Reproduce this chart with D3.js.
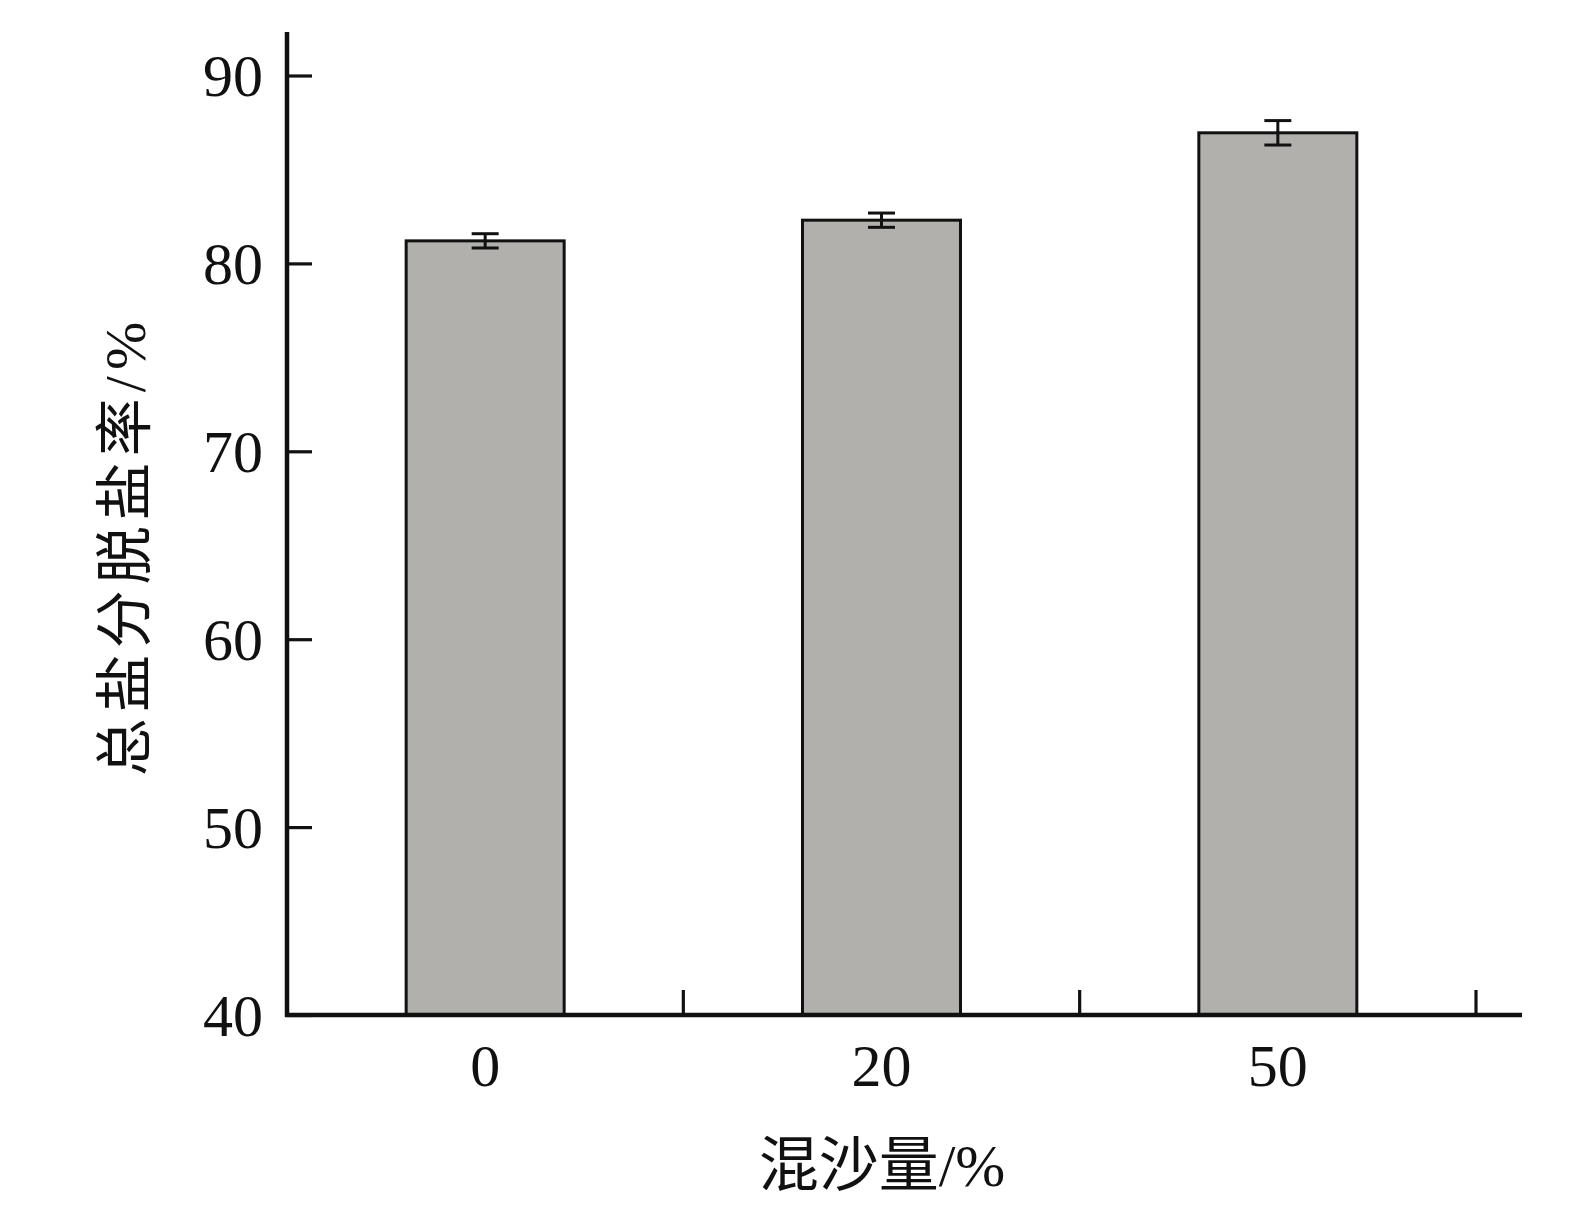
<!DOCTYPE html>
<html>
<head>
<meta charset="utf-8">
<script src="https://cdn.jsdelivr.net/npm/d3@7"></script>
<style>
  html, body { margin: 0; padding: 0; background: #fff; }
  svg { display: block; }
</style>
</head>
<body>
<script>
const categories = ["0", "20", "50"];
const values = [81.2, 82.3, 86.95];
const errors = [0.38, 0.38, 0.65];
const yTicks = [40, 50, 60, 70, 80, 90];
const xTitle = "混沙量/%";
const yTitle = "总盐分脱盐率/%";

const W = 1589, H = 1223;
const svg = d3.select("body").append("svg").attr("width", W).attr("height", H);
const serif = "'Liberation Serif', 'Times New Roman', 'Noto Sans CJK SC', serif";

const x = d3.scaleBand().domain(categories).range([287, 1476]).padding(0);
const y = d3.scaleLinear().domain([40, 90]).range([1015, 75.5]);
const barW = 158;

// bars
svg.selectAll("rect.bar").data(values).enter().append("rect")
  .attr("class", "bar")
  .attr("x", (d, i) => x(categories[i]) + x.bandwidth() / 2 - barW / 2)
  .attr("y", d => y(d))
  .attr("width", barW)
  .attr("height", d => y(40) - y(d))
  .attr("fill", "#b1b0ac")
  .attr("stroke", "#111")
  .attr("stroke-width", 3);

// error bars
const capW = 27;
const eg = svg.selectAll("g.err").data(values).enter().append("g").attr("class", "err")
  .attr("stroke", "#111").attr("stroke-width", 3);
eg.append("line")
  .attr("x1", (d, i) => x(categories[i]) + x.bandwidth() / 2)
  .attr("x2", (d, i) => x(categories[i]) + x.bandwidth() / 2)
  .attr("y1", (d, i) => y(d + errors[i]))
  .attr("y2", (d, i) => y(d - errors[i]));
eg.append("line")
  .attr("x1", (d, i) => x(categories[i]) + x.bandwidth() / 2 - capW / 2)
  .attr("x2", (d, i) => x(categories[i]) + x.bandwidth() / 2 + capW / 2)
  .attr("y1", (d, i) => y(d + errors[i]))
  .attr("y2", (d, i) => y(d + errors[i]));
eg.append("line")
  .attr("x1", (d, i) => x(categories[i]) + x.bandwidth() / 2 - capW / 2)
  .attr("x2", (d, i) => x(categories[i]) + x.bandwidth() / 2 + capW / 2)
  .attr("y1", (d, i) => y(d - errors[i]))
  .attr("y2", (d, i) => y(d - errors[i]));

// y axis
const yAxis = d3.axisLeft(y).tickValues(yTicks).tickSize(-25).tickSizeOuter(0).tickPadding(24);
const gy = svg.append("g").attr("transform", "translate(287,0)").call(yAxis);
gy.select(".domain").remove();
gy.selectAll(".tick line").attr("stroke", "#111").attr("stroke-width", 3.2);
gy.selectAll(".tick text").attr("font-family", serif).attr("font-size", 60).attr("fill", "#111")
  .attr("x", -24).attr("dy", "0.34em");

// x axis
const xAxis = d3.axisBottom(x).tickSize(0).tickPadding(0);
const gx = svg.append("g").attr("transform", "translate(0,1015)").call(xAxis);
gx.select(".domain").remove();
gx.selectAll(".tick text").attr("font-family", serif).attr("font-size", 60).attr("fill", "#111")
  .attr("y", 71).attr("dy", 0);
// x ticks at band boundaries
svg.selectAll("line.xt").data(categories).enter().append("line")
  .attr("class", "xt")
  .attr("x1", d => x(d) + x.bandwidth()).attr("x2", d => x(d) + x.bandwidth())
  .attr("y1", 1015).attr("y2", 990)
  .attr("stroke", "#111").attr("stroke-width", 3.2);

// axis lines
svg.append("line").attr("x1", 287).attr("x2", 287).attr("y1", 32).attr("y2", 1017)
  .attr("stroke", "#111").attr("stroke-width", 4.5);
svg.append("line").attr("x1", 285).attr("x2", 1522).attr("y1", 1015).attr("y2", 1015)
  .attr("stroke", "#111").attr("stroke-width", 4.5);

// titles
svg.append("text").attr("x", 882).attr("y", 1166)
  .attr("text-anchor", "middle").attr("dominant-baseline", "central")
  .attr("font-family", serif).attr("font-size", 60).attr("fill", "#111")
  .text(xTitle);
svg.append("text").attr("transform", "translate(125,546) rotate(-90)")
  .attr("text-anchor", "middle").attr("dominant-baseline", "central")
  .attr("font-family", serif).attr("font-size", 58).attr("fill", "#111")
  .attr("letter-spacing", 6)
  .text(yTitle);
</script>
</body>
</html>
